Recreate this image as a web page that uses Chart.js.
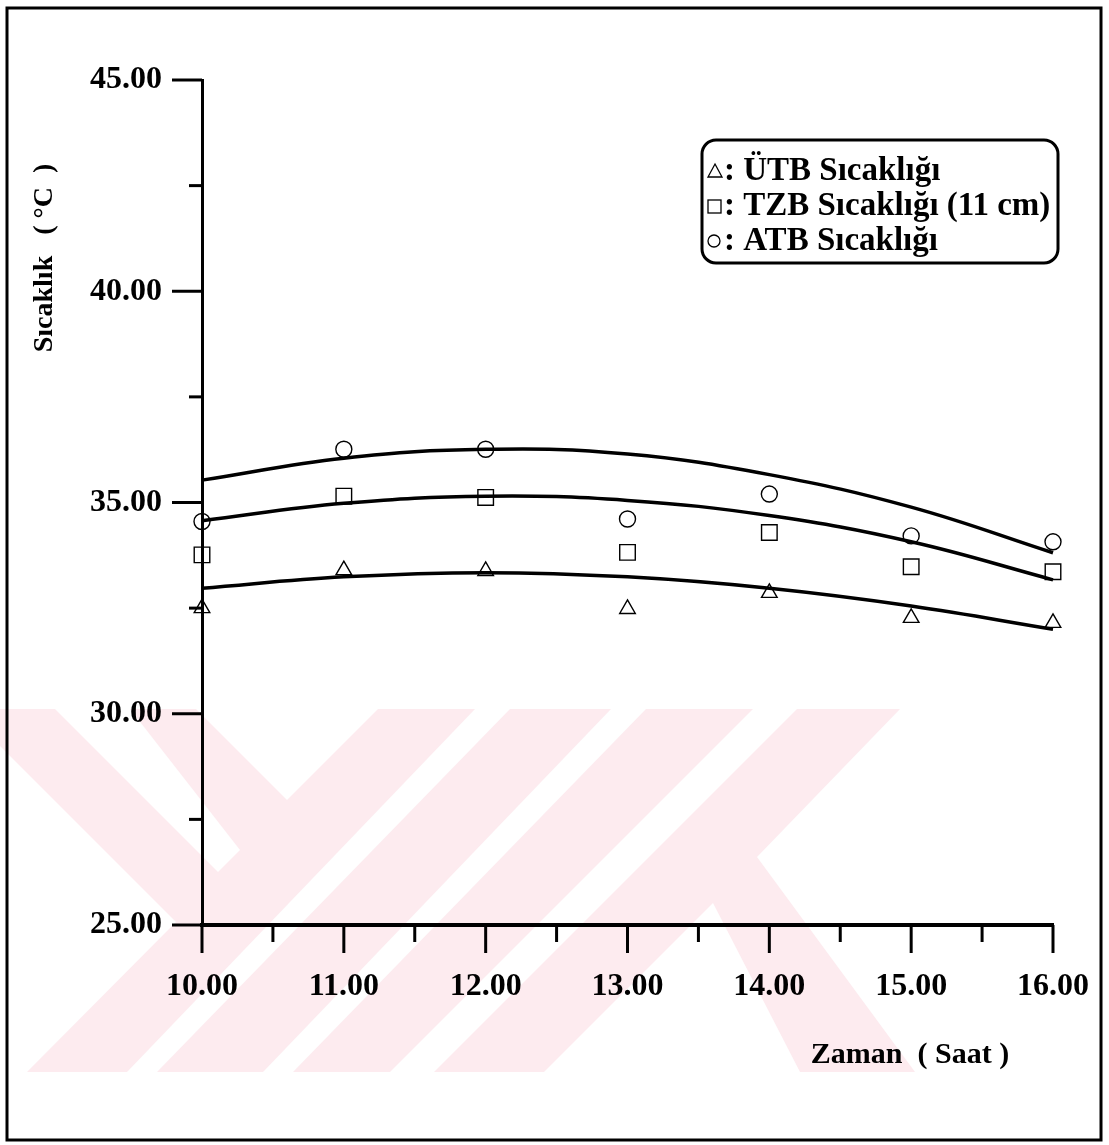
<!DOCTYPE html>
<html lang="tr">
<head>
<meta charset="utf-8">
<title>Sıcaklık - Zaman</title>
<script src="https://cdn.jsdelivr.net/npm/chart.js@4.4.1/dist/chart.umd.min.js"></script>
<style>
  html, body { margin: 0; padding: 0; background: #fff; }
  canvas { display: block; }
</style>
</head>
<body>
<canvas id="tempChart" width="1109" height="1145"></canvas>
<script>
// Ölçüm saatleri
const hours = [10, 11, 12, 13, 14, 15, 16];

// Ölçülen sıcaklıklar (°C)
const utbTemps = [32.50, 33.40, 33.38, 32.48, 32.86, 32.27, 32.15];
const tzbTemps = [33.76, 35.15, 35.12, 33.82, 34.29, 33.48, 33.36];
const atbTemps = [34.55, 36.26, 36.26, 34.61, 35.20, 34.21, 34.07];

// Regresyon eğrilerinin saatlik değerleri (°C)
const utbCurve = [32.97, 33.24, 33.34, 33.24, 32.97, 32.55, 32.00];
const tzbCurve = [34.57, 34.98, 35.15, 35.05, 34.69, 34.07, 33.17];
const atbCurve = [35.53, 36.05, 36.26, 36.15, 35.66, 34.89, 33.81];

const seriesNames = ['ÜTB Sıcaklığı', 'TZB Sıcaklığı (11 cm)', 'ATB Sıcaklığı'];

// Eksen değerleri
const yTickValues = [25, 30, 35, 40, 45];
const yMinorValues = [27.5, 32.5, 37.5, 42.5];
const xMinorValues = [10.5, 11.5, 12.5, 13.5, 14.5, 15.5];

const SERIF = '"Liberation Serif", "Times New Roman", serif';

const toPoints = (vals) => hours.map((h, i) => ({ x: h, y: vals[i] }));

function markerSet(label, vals, style, radius) {
    return {
        label: label,
        data: toPoints(vals),
        showLine: false,
        pointStyle: style,
        pointRadius: radius,
        pointHoverRadius: radius,
        pointBorderWidth: 1.4,
        pointBorderColor: '#000',
        pointBackgroundColor: 'rgba(0,0,0,0)',
        clip: false
    };
}

function curveSet(vals) {
    return {
        data: toPoints(vals),
        showLine: true,
        borderColor: '#000',
        borderWidth: 3.5,
        pointRadius: 0,
        pointHoverRadius: 0,
        tension: 0.4,
        fill: false,
        clip: false
    };
}

function polygon(ctx, pts, color) {
    ctx.beginPath();
    ctx.moveTo(pts[0][0], pts[0][1]);
    for (let i = 1; i < pts.length; i++) ctx.lineTo(pts[i][0], pts[i][1]);
    ctx.closePath();
    ctx.fillStyle = color;
    ctx.fill();
}

// Sayfa zemini, filigran, çerçeve, eksen çentikleri, başlıklar ve açıklama kutusu
const paperPlugin = {
    id: 'paper',
    beforeDraw(chart) {
        const ctx = chart.ctx;
        ctx.save();
        ctx.fillStyle = '#fff';
        ctx.fillRect(0, 0, chart.width, chart.height);

        // soluk pembe filigran
        polygon(ctx, [[0, 709], [900, 709], [757, 857], [915, 1072], [27, 1072], [176, 922], [0, 746]], '#fdebef');
        [
            [[55, 709], [130, 709], [240, 850], [218, 872]],
            [[196, 709], [378, 709], [287, 800]],
            [[475, 709], [510, 709], [157, 1072], [127, 1072]],
            [[611, 709], [646, 709], [293, 1072], [263, 1072]],
            [[753, 709], [797, 709], [434, 1072], [390, 1072]],
            [[713, 903], [800, 1072], [544, 1072]]
        ].forEach(p => polygon(ctx, p, '#fff'));
        ctx.restore();
    },
    afterDraw(chart) {
        const ctx = chart.ctx;
        const xs = chart.scales.x;
        const ys = chart.scales.y;
        const area = chart.chartArea;
        ctx.save();
        ctx.strokeStyle = '#000';
        ctx.fillStyle = '#000';
        ctx.lineCap = 'butt';

        // dış çerçeve
        ctx.lineWidth = 3;
        ctx.strokeRect(7, 8, 1094, 1132);

        // y ekseni çentikleri
        const tick = (x1, y1, x2, y2) => {
            ctx.beginPath();
            ctx.moveTo(x1, y1);
            ctx.lineTo(x2, y2);
            ctx.stroke();
        };
        ctx.lineWidth = 3;
        yTickValues.forEach(v => { const y = ys.getPixelForValue(v); tick(area.left - 30, y, area.left, y); });
        yMinorValues.forEach(v => { const y = ys.getPixelForValue(v); tick(area.left - 13, y, area.left, y); });

        // x ekseni çentikleri
        hours.forEach(v => { const x = xs.getPixelForValue(v); tick(x, area.bottom, x, area.bottom + 28); });
        xMinorValues.forEach(v => { const x = xs.getPixelForValue(v); tick(x, area.bottom, x, area.bottom + 17); });

        // eksen başlıkları
        ctx.font = 'bold 28px ' + SERIF;
        ctx.textAlign = 'center';
        ctx.textBaseline = 'middle';
        ctx.save();
        ctx.translate(45, 258);
        ctx.rotate(-Math.PI / 2);
        ctx.fillText('Sıcaklık   ( °C  )', 0, 0);
        ctx.restore();

        ctx.font = 'bold 30px ' + SERIF;
        ctx.fillText('Zaman  ( Saat )', 910, 1055);

        // açıklama kutusu
        ctx.lineWidth = 3;
        ctx.beginPath();
        ctx.roundRect(702, 140, 356, 123, 14);
        ctx.stroke();

        const rows = [171, 206, 241];
        ctx.lineWidth = 1.3;
        // üçgen
        ctx.beginPath();
        ctx.moveTo(715, rows[0] - 7);
        ctx.lineTo(722, rows[0] + 6);
        ctx.lineTo(708, rows[0] + 6);
        ctx.closePath();
        ctx.stroke();
        // kare
        ctx.strokeRect(708, rows[1] - 6, 13, 13);
        // daire
        ctx.beginPath();
        ctx.arc(714, rows[2], 6, 0, Math.PI * 2);
        ctx.stroke();

        ctx.font = 'bold 33px ' + SERIF;
        ctx.textAlign = 'left';
        seriesNames.forEach((name, i) => ctx.fillText(': ' + name, 724, rows[i]));
        ctx.restore();
    }
};

const tickFont = { family: SERIF, size: 32, weight: 'bold' };

new Chart(document.getElementById('tempChart'), {
    type: 'scatter',
    data: {
        datasets: [
            markerSet(seriesNames[0], utbTemps, 'triangle', 9),
            markerSet(seriesNames[1], tzbTemps, 'rect', 11),
            markerSet(seriesNames[2], atbTemps, 'circle', 8),
            curveSet(utbCurve),
            curveSet(tzbCurve),
            curveSet(atbCurve)
        ]
    },
    options: {
        responsive: false,
        animation: false,
        events: [],
        layout: { padding: { top: 80, right: 56, bottom: 0, left: 0 } },
        plugins: {
            legend: { display: false },
            tooltip: { enabled: false }
        },
        scales: {
            x: {
                type: 'linear',
                min: 10,
                max: 16,
                afterBuildTicks: s => { s.ticks = hours.map(v => ({ value: v })); },
                afterFit: s => {
                    s.height = 220;
                    s.paddingLeft = 0;
                    s.paddingRight = 0;
                },
                grid: { display: false, drawTicks: false },
                border: { display: true, color: '#000', width: 4 },
                ticks: {
                    padding: 43,
                    color: '#000',
                    font: tickFont,
                    maxRotation: 0,
                    autoSkip: false,
                    callback: v => Number(v).toFixed(2)
                }
            },
            y: {
                type: 'linear',
                min: 25,
                max: 45,
                afterBuildTicks: s => { s.ticks = yTickValues.map(v => ({ value: v })); },
                afterFit: s => {
                    s.width = 202;
                    s.paddingTop = 0;
                    s.paddingBottom = 0;
                },
                grid: { display: false, drawTicks: false },
                border: { display: true, color: '#000', width: 3 },
                ticks: {
                    padding: 40,
                    color: '#000',
                    font: tickFont,
                    callback: v => Number(v).toFixed(2)
                }
            }
        }
    },
    plugins: [paperPlugin]
});
</script>
</body>
</html>
